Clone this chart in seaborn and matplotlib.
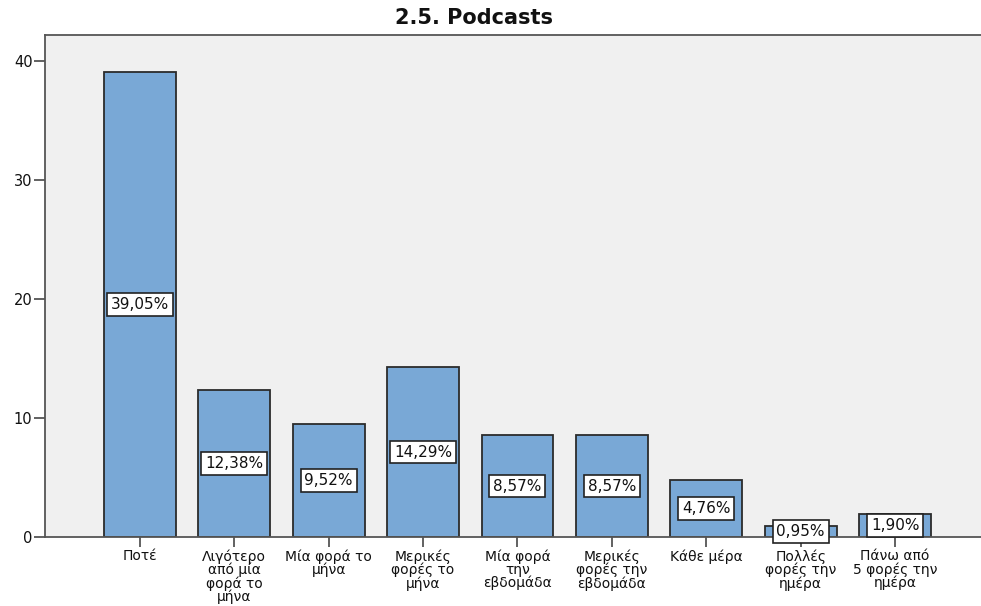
import matplotlib
matplotlib.use("Agg")
import matplotlib.pyplot as plt
import seaborn as sns
import pandas as pd

categories = ["Ποτέ", "Λιγότερο\nαπό μία\nφορά το\nμήνα", "Μία φορά το\nμήνα",
              "Μερικές\nφορές το\nμήνα", "Μία φορά\nτην\nεβδομάδα",
              "Μερικές\nφορές την\nεβδομάδα", "Κάθε μέρα",
              "Πολλές\nφορές την\nημέρα", "Πάνω από\n5 φορές την\nημέρα"]
values = [39.05, 12.38, 9.52, 14.29, 8.57, 8.57, 4.76, 0.95, 1.90]
labels = ["39,05%", "12,38%", "9,52%", "14,29%", "8,57%", "8,57%", "4,76%", "0,95%", "1,90%"]
yticks = [0, 10, 20, 30, 40]
title = "2.5. Podcasts"

sns.set_style("white")
plt.rcParams['font.family'] = ['DejaVu Sans']

df = pd.DataFrame({"cat": categories, "val": values})

fig = plt.figure(figsize=(9.81, 6.06), dpi=100)
ax = fig.add_axes([45/981, 1-537/606, 1-45/981, (537-35)/606])
ax.set_facecolor("#F0F0F0")

sns.barplot(data=df, x="cat", y="val", ax=ax, color="#79A8D6", width=0.76,
            edgecolor="#2B2B2B", linewidth=1.3, saturation=1)

for i, (v, lab) in enumerate(zip(values, labels)):
    ax.text(i, v/2, lab, ha="center", va="center", fontsize=11, color="#111111",
            bbox=dict(boxstyle="square,pad=0.25", fc="white", ec="#222222", lw=1.2))

ax.set_ylim(0, 42.2)
ax.set_xlim(-1.005, 8.91)
ax.set_yticks(yticks)
ax.set_yticklabels([str(t) for t in yticks], fontsize=10.5, color="#111111")
ax.set_xticks(range(len(categories)))
ax.set_xticklabels(categories, fontsize=10, linespacing=0.9, va="top", color="#111111")
ax.set_xlabel("")
ax.set_ylabel("")
ax.tick_params(axis="y", direction="out", length=8, width=1.3, color="#555555", pad=1)
ax.tick_params(axis="x", direction="out", length=7, width=1.3, color="#555555", pad=2)
ax.tick_params(left=True, bottom=True)
for s in ["left", "bottom", "top"]:
    ax.spines[s].set_color("#555555")
    ax.spines[s].set_linewidth(1.3)
ax.spines["right"].set_visible(False)

fig.text(474/981, 1-18/606, title, ha="center", va="center", fontsize=15,
         fontweight="bold", color="#111111")

fig.savefig("out.png", dpi=100)
